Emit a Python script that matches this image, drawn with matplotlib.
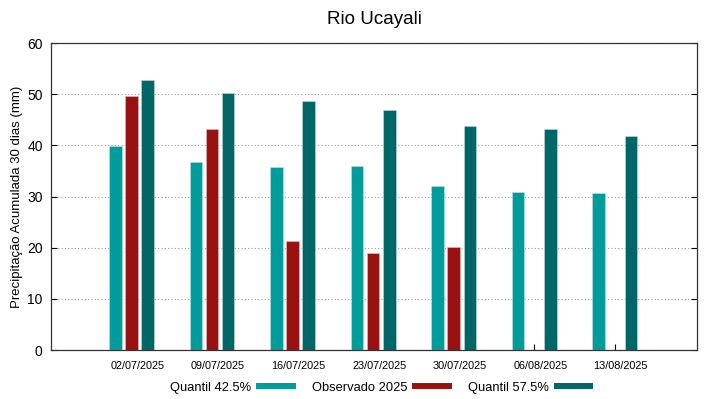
import numpy as np
import matplotlib
matplotlib.use('Agg')
import matplotlib.pyplot as plt
from matplotlib.lines import Line2D

plt.rcParams['font.family'] = ['Liberation Sans', 'DejaVu Sans']

# data
datas = ['02/07/2025', '09/07/2025', '16/07/2025', '23/07/2025',
         '30/07/2025', '06/08/2025', '13/08/2025']
q425 = [39.9, 36.7, 35.7, 36.0, 32.0, 30.9, 30.7]
obs2025 = [49.6, 43.2, 21.3, 19.0, 20.1, np.nan, np.nan]
q575 = [52.8, 50.2, 48.7, 46.9, 43.8, 43.2, 41.8]

c_q425 = '#009b9b'
c_obs = '#991111'
c_q575 = '#006666'

fig = plt.figure(figsize=(7.19, 3.99), dpi=100)
ax = fig.add_axes([0.0709, 0.1228, 0.8985, 0.7694])

x = np.arange(len(datas))
w = 0.155
step = 0.2
ax.bar(x - step, q425, w, color=c_q425, edgecolor='#bfe6e6', linewidth=0.4, zorder=3)
ax.bar(x, obs2025, w, color=c_obs, edgecolor='#e8bcbc', linewidth=0.4, zorder=3)
ax.bar(x + step, q575, w, color=c_q575, edgecolor='#bfdcdc', linewidth=0.4, zorder=3)

ax.set_xlim(-1.0, 7.02)
ax.set_ylim(0, 60)
ax.set_yticks(range(0, 61, 10))
# tick marks at group centres, labels a bit to the right (gnuplot look)
ax.set_xticks(x)
ax.set_xticklabels([])
ax.set_xticks(x + 0.075, minor=True)
ax.set_xticklabels(datas, minor=True, fontsize=7.8)
ax.tick_params(axis='x', which='minor', length=0, pad=8)
ax.tick_params(axis='x', which='major', direction='in', length=4)

ax.tick_params(axis='y', direction='in', right=True, length=4, labelsize=10, pad=6)
ax.grid(axis='y', linestyle=(0, (1, 2)), color='#999999', linewidth=0.8, zorder=0)
for s in ax.spines.values():
    s.set_color('#333333')
    s.set_linewidth(0.9)

ax.set_ylabel('Precipitação Acumulada 30 dias (mm)', fontsize=9.5, labelpad=3)
ax.set_title('Rio Ucayali', fontsize=13.5, pad=14)

handles = [Line2D([], [], color=c_q425, lw=4.3),
           Line2D([], [], color=c_obs, lw=4.3),
           Line2D([], [], color=c_q575, lw=4.3)]
labels = ['Quantil 42.5%', 'Observado 2025', 'Quantil 57.5%']
fig.legend(handles, labels, loc='center', bbox_to_anchor=(0.529, 0.028), ncol=3,
           frameon=False, markerfirst=False, fontsize=9.3, handlelength=2.6,
           columnspacing=1.5, handletextpad=0.6)

fig.savefig('out.png', dpi=100)
